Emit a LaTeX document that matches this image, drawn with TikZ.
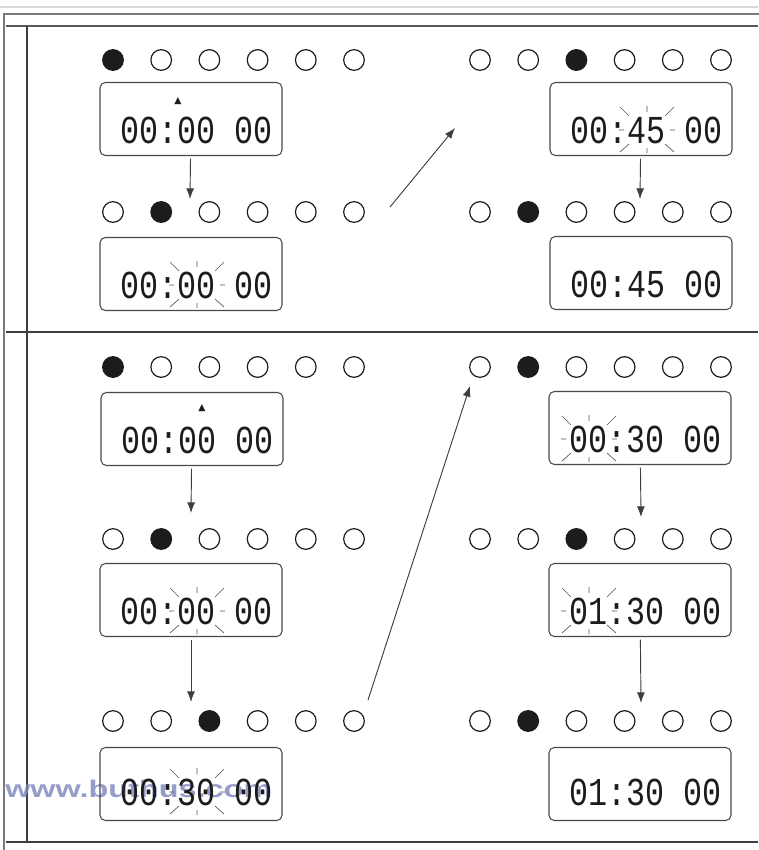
\documentclass[tikz,border=0pt]{standalone}
\usepackage{fontspec}
\usepackage{graphicx}
\usetikzlibrary{arrows.meta,calc}
\newfontfamily\lcdfont{Liberation Mono}
\newfontfamily\wmfont{Liberation Sans}
\newfontfamily\symfont{DejaVu Sans}
\definecolor{ink}{HTML}{1C1C1C}
\definecolor{framegray}{HTML}{7A7A7A}
\definecolor{wmblue}{HTML}{7C84BC}
\tikzset{
  dot/.style={circle,draw=ink,line width=0.9pt,minimum size=15.5pt,inner sep=0pt},
  dotfilled/.style={dot,fill=ink},
  lcdbox/.style={draw=ink!80,line width=0.8pt,rounded corners=4pt,minimum width=136.5pt,minimum height=54.75pt,inner sep=0pt},
  digits/.style={inner sep=0pt,text=ink,font=\lcdfont\fontsize{23.75}{24}\selectfont,anchor=east},
  arr/.style={draw=ink!85,line width=0.7pt,shorten <=2pt,-{Latex[length=8pt,width=6pt]}},
  flashline/.style={draw=ink!75,line width=0.5pt},
  trimark/.style={inner sep=0pt,text=ink,font=\symfont\fontsize{7}{7}\selectfont},
  thinframe/.style={draw=ink!85,line width=1pt}
}
\newcommand\dotrow[4]{%
  \foreach \i in {1,...,6}{%
    \pgfmathsetmacro\xx{#3+48.2*(\i-1)}%
    \ifnum\i=#4\relax
      \node[dotfilled] (#1\i) at (\xx,#2) {};%
    \else
      \node[dot] (#1\i) at (\xx,#2) {};%
    \fi}}
\newcommand\flashat[2]{%
  \begin{scope}[shift={(#1,#2)}]
    \draw[flashline] (-27,-23)--(-18,-14) (27,-23)--(18,-14)
      (-27,22)--(-18,14) (27,22)--(18,14)
      (0,-24)--(0,-18) (0,18)--(0,23) (-28,0)--(-23,0) (23,0)--(28,0);
  \end{scope}}
\begin{document}
\begin{tikzpicture}[x=0.75pt,y=-0.75pt]
\useasboundingbox (0,0) rectangle (758,850);
\fill[white] (0,0) rectangle (758,850);
% frame
\draw[gray!30,line width=1.5pt] (0,7)--(758,7);
\draw[framegray,line width=1.6pt] (4,852)--(4,14)--(770,14);
\draw[gray!70!black,line width=1.3pt] (6,26)--(758,26);
\draw[thinframe] (27,26)--(27,842);
\draw[thinframe] (6,332)--(758,332);
\draw[thinframe] (6,842)--(758,842);

% watermark
\node[anchor=west,text=wmblue,opacity=0.8,inner sep=0pt,font=\wmfont\bfseries\fontsize{18}{18}\selectfont] (wm) at (5,789) {\scalebox{1.35}[1]{www.buthus.com}};

% ---- top section ----
\dotrow{A}{60}{113}{1}
\dotrow{B}{60}{480}{3}
\node[lcdbox] (L1) at (191,119) {};
\node[digits] (L1t) at (273,130) {\scalebox{1}[1.25]{00:00 00}};
\node[trimark] (L1m) at (178,101) {▲};
\node[lcdbox] (R1) at (641,119) {};
\node[digits] (R1t) at (723,130) {\scalebox{1}[1.25]{00:45 00}};
\flashat{647}{130}

\dotrow{C}{212}{113}{2}
\dotrow{D}{212}{480}{2}
\node[lcdbox] (L2) at (191,274) {};
\node[digits] (L2t) at (273,285) {\scalebox{1}[1.25]{00:00 00}};
\flashat{197}{285}
\node[lcdbox] (R2) at (641,273) {};
\node[digits] (R2t) at (723,284) {\scalebox{1}[1.25]{00:45 00}};

\coordinate (e1) at (190,199);
\coordinate (e2) at (640,199);
\coordinate (d1s) at (390,207);
\coordinate (d1e) at (455,128);
\draw[arr] (L1) -- (e1);
\draw[arr] (R1) -- (e2);
\draw[arr,shorten <=0pt] (d1s) -- (d1e);

% ---- bottom section ----
\dotrow{E}{367}{113}{1}
\dotrow{F}{367}{480}{2}
\node[lcdbox] (L3) at (192,429) {};
\node[digits] (L3t) at (274,440) {\scalebox{1}[1.25]{00:00 00}};
\node[trimark] (L3m) at (202,408) {▲};
\node[lcdbox] (R3) at (640,428) {};
\node[digits] (R3t) at (722,439) {\scalebox{1}[1.25]{00:30 00}};
\flashat{589}{439}

\dotrow{G}{539}{113}{2}
\dotrow{H}{539}{480}{3}
\node[lcdbox] (L4) at (191,600) {};
\node[digits] (L4t) at (273,611) {\scalebox{1}[1.25]{00:00 00}};
\flashat{197}{611}
\node[lcdbox] (R4) at (640,600) {};
\node[digits] (R4t) at (722,611) {\scalebox{1}[1.25]{01:30 00}};
\flashat{589}{611}

\dotrow{I}{721}{113}{3}
\dotrow{J}{721}{480}{2}
\node[lcdbox] (L5) at (191,784) {};
\node[digits] (L5t) at (273,792) {\scalebox{1}[1.25]{00:30 00}};
\flashat{197}{792}
\node[lcdbox] (R5) at (640,784) {};
\node[digits] (R5t) at (722,792) {\scalebox{1}[1.25]{01:30 00}};

\coordinate (e3) at (191,513);
\coordinate (e4) at (641,517);
\coordinate (e5) at (191,702);
\coordinate (e6) at (641,703);
\coordinate (d2s) at (368,700);
\coordinate (d2e) at (470,386);
\draw[arr] (L3) -- (e3);
\draw[arr] (R3) -- (e4);
\draw[arr] (L4) -- (e5);
\draw[arr] (R4) -- (e6);
\draw[arr,shorten <=0pt] (d2s) -- (d2e);
\end{tikzpicture}
\end{document}
